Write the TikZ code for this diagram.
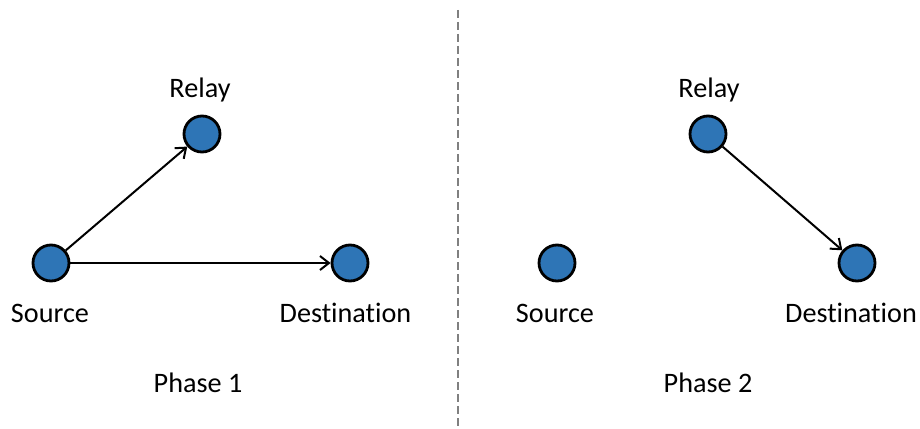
\documentclass[tikz,border=0pt]{standalone}
\usepackage{fontspec}
\setmainfont{Carlito}[Ligatures=NoCommon]
\usetikzlibrary{arrows.meta}
\definecolor{nodeblue}{HTML}{2E75B6}
\begin{document}
\begin{tikzpicture}[x=1pt,y=-1pt,
  station/.style={circle,draw=black,line width=2.8pt,fill=nodeblue,minimum size=36pt,inner sep=0pt},
  lbl/.style={font=\fontsize{28.2}{33}\selectfont,inner sep=0pt,anchor=base},
  link/.style={line width=2pt,-{Straight Barb[length=9pt,width=14pt,line width=2pt]}},
  divider/.style={draw=gray,line width=1.6pt,dash pattern=on 8pt off 4pt}]
\useasboundingbox (0,0) rectangle (920,428);
% Phase 1
\node[station] (s1) at (51,263) {};
\node[station] (r1) at (202,134) {};
\node[station] (d1) at (350,263) {};
\node[lbl] (s1l) at (50,322) {Source};
\node[lbl] (r1l) at (200,97) {Relay};
\node[lbl] (d1l) at (345.5,322) {Destination};
\node[lbl] (p1) at (198,392) {Phase 1};
\draw[link] (s1) -- (r1);
\draw[link] (s1) -- (d1);
% separator
\coordinate (top) at (458,10);
\coordinate (bot) at (458,426);
\draw[divider] (top) -- (bot);
% Phase 2
\node[station] (s2) at (557,263) {};
\node[station] (r2) at (708,134) {};
\node[station] (d2) at (857,263) {};
\node[lbl] (s2l) at (555,322) {Source};
\node[lbl] (r2l) at (709,97) {Relay};
\node[lbl] (d2l) at (851,322) {Destination};
\node[lbl] (p2) at (708,392) {Phase 2};
\draw[link] (r2) -- (d2);
\end{tikzpicture}
\end{document}
